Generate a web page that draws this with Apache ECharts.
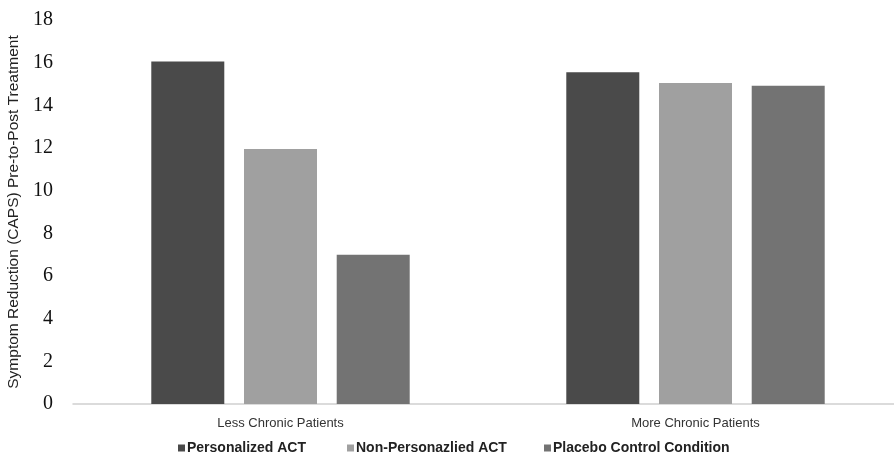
<!DOCTYPE html>
<html><head><meta charset="utf-8">
<script src="https://cdn.jsdelivr.net/npm/echarts@6/dist/echarts.min.js"></script>
<style>html,body{margin:0;padding:0;background:#fff}#c{width:894px;height:464px}</style>
</head><body><div id="c"></div>
<script>
const categories = ['Less Chronic Patients', 'More Chronic Patients'];
const seriesNames = ['Personalized ACT', 'Non-Personazlied ACT', 'Placebo Control Condition'];
const personalized = [16.05, 15.55];
const nonPersonalized = [11.95, 15.05];
const placebo = [7.0, 14.92];
const colors = ['#4a4a4a', '#a0a0a0', '#737373'];
const dataSets = [personalized, nonPersonalized, placebo];
const legendLefts = [173, 342, 539];

const chart = echarts.init(document.getElementById('c'));
chart.setOption({
  animation: false,
  backgroundColor: '#fff',
  grid: { left: 73, width: 830, top: 20, bottom: 60, containLabel: false, outerBoundsMode: 'none' },
  legend: seriesNames.map((n, i) => ({
    bottom: 4, left: legendLefts[i], itemWidth: 7, itemHeight: 7,
    icon: 'rect',
    textStyle: { fontFamily: 'Liberation Sans, Arial', fontWeight: 'bold', fontSize: 14, color: '#222', padding: [0,0,0,-3] },
    data: [n]
  })),
  xAxis: {
    type: 'category', data: categories,
    axisLine: { lineStyle: { color: '#cfcfcf', width: 1.5 } },
    axisTick: { show: false },
    axisLabel: { fontFamily: 'Liberation Sans, Arial', fontSize: 13, color: '#333', margin: 13 }
  },
  yAxis: {
    type: 'value', min: 0, max: 18, interval: 2,
    name: 'Symptom Reduction (CAPS) Pre-to-Post Treatment',
    nameLocation: 'middle', nameGap: 46, nameRotate: 90,
    nameTextStyle: { fontFamily: 'Liberation Sans, Arial', fontSize: 15.5, color: '#222' },
    axisLine: { show: false }, axisTick: { show: false },
    splitLine: { show: false },
    axisLabel: { fontFamily: 'Liberation Serif, Times New Roman, serif', fontSize: 20, color: '#111', margin: 20 }
  },
  series: dataSets.map((d, i) => ({
    name: seriesNames[i], type: 'bar', data: d,
    barWidth: 73, barGap: '27%',
    itemStyle: { color: colors[i] }
  }))
});
</script></body></html>
